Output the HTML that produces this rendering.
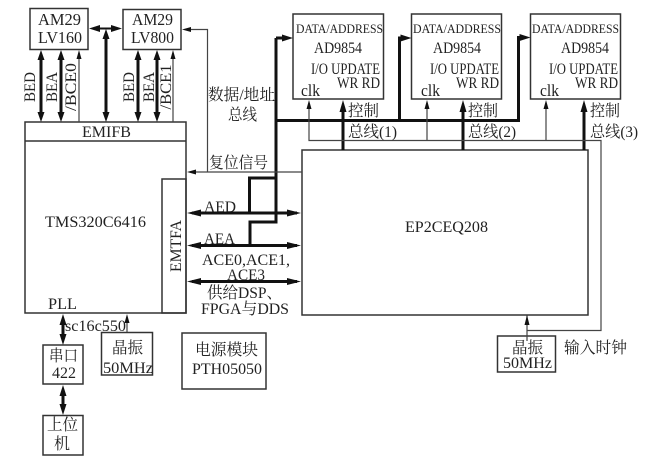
<!DOCTYPE html>
<html>
<head>
<meta charset="utf-8">
<style>
html,body{margin:0;padding:0;background:#fff;width:671px;height:465px;overflow:hidden}
svg{display:block}
text{font-family:"Liberation Serif","Noto Serif CJK SC",serif;fill:#222;font-size:16px}
.m{text-anchor:middle}
.l{font-size:17px}
.s{font-size:13px}
.r{fill:none;stroke:#333;stroke-width:1.5}
.t{fill:none;stroke:#444;stroke-width:1.2}
.b{fill:none;stroke:#111;stroke-width:3}
.a{fill:#111;stroke:none}
</style>
</head>
<body>
<svg width="671" height="465" viewBox="0 0 671 465" xmlns="http://www.w3.org/2000/svg">
<!-- boxes -->
<rect class="r" x="30" y="8.5" width="58" height="41"/>
<rect class="r" x="123" y="9.5" width="58" height="40"/>
<rect class="r" x="25" y="122" width="161" height="191"/>
<line class="r" x1="25" y1="141" x2="186" y2="141"/>
<rect class="r" x="162" y="179" width="24" height="134"/>
<rect class="r" x="302" y="150" width="286" height="165"/>
<rect class="r" x="293" y="14" width="90.500" height="85"/>
<rect class="r" x="411.500" y="14" width="90" height="85"/>
<rect class="r" x="530.500" y="14" width="90" height="85"/>
<rect class="r" x="43" y="345" width="40" height="39"/>
<rect class="r" x="43" y="415.500" width="40" height="39.500"/>
<rect class="r" x="101.500" y="332.500" width="51" height="42.500"/>
<rect class="r" x="182" y="333" width="84" height="56"/>
<rect class="r" x="497.500" y="336" width="58" height="36"/>

<!-- thick buses -->
<path class="b" d="M276 38H285M276 38V222H250V245M276 178H249.500V213"/>
<path class="b" d="M276 120.500H399.500V38H405M399.500 120.500H518.500V37.500H524"/>
<path class="b" d="M192 213H297M192 245.500H297M192 281.500H297"/>
<path class="b" d="M41 56V116M61 56V116M106 34V116M138 56V116M157 56V116"/>
<path class="b" d="M343 106V150M463 106V150M584 106V150"/>
<path class="b" d="M63 320V339M63 391V410"/>
<line x1="96" y1="28.500" x2="116" y2="28.500" stroke="#111" stroke-width="2"/>

<!-- thin lines -->
<path class="t" d="M79 55V122M173 55V122"/>
<path class="t" d="M302 172H192M207.500 172V29.500H188"/>
<path class="t" d="M309 105V140.500H601V330.500H527M427 105V140.500M546 105V140.500"/>
<path class="t" d="M527 341V315M127 332V319"/>

<!-- arrowheads -->
<g class="a">
<path d="M41 50l-3.500 10h7zM41 122l-3.500 -10h7z"/>
<path d="M61 50l-3.500 10h7zM61 122l-3.500 -10h7z"/>
<path d="M79 50l-2.500 9h5z"/>
<path d="M106 29l-3.500 10h7zM106 122l-3.500 -10h7z"/>
<path d="M138 50l-3.500 10h7zM138 122l-3.500 -10h7z"/>
<path d="M157 50l-3.500 10h7zM157 122l-3.500 -10h7z"/>
<path d="M173 50l-2.500 9h5z"/>
<path d="M89 28.500l11 -3.500v7zM122 28.500l-11 -3.500v7z"/>
<path d="M182 29.500l9 -2.500v5z"/>
<path d="M187 172l9 -2.500v5z"/>
<path d="M293 38l-11 -3.500v7zM411.500 38l-11 -3.500v7zM530.500 37.500l-11 -3.500v7z"/>
<path d="M309 100l-2.500 9h5zM427 100l-2.500 9h5zM546 100l-2.500 9h5z"/>
<path d="M343 100l-3.500 12h7zM463 100l-3.500 12h7zM584 100l-3.500 12h7z"/>
<path d="M187 213l14 -3.500v7zM301 213l-14 -3.500v7z"/>
<path d="M187 245.500l14 -3.500v7zM301 245.500l-14 -3.500v7z"/>
<path d="M187 281.500l14 -3.500v7zM301 281.500l-14 -3.500v7z"/>
<path d="M63 314l-3.500 11h7zM63 345l-3.500 -11h7z"/>
<path d="M63 385l-3.500 11h7zM63 415l-3.500 -11h7z"/>
<path d="M127 314l-2.500 9h5z"/>
<path d="M527 315l-2.500 10h5z"/>
</g>

<!-- labels -->
<g lengthAdjust="spacingAndGlyphs">
<text class="l" x="38" y="25" textLength="43" lengthAdjust="spacingAndGlyphs">AM29</text>
<text class="l" x="38" y="43" textLength="44" lengthAdjust="spacingAndGlyphs">LV160</text>
<text class="l" x="132" y="25" textLength="41" lengthAdjust="spacingAndGlyphs">AM29</text>
<text class="l" x="131" y="43" textLength="43" lengthAdjust="spacingAndGlyphs">LV800</text>
<text class="m" transform="translate(35,87) rotate(-90)" x="0" y="0" textLength="30" lengthAdjust="spacingAndGlyphs">BED</text>
<text class="m" transform="translate(57,87) rotate(-90)" x="0" y="0" textLength="30" lengthAdjust="spacingAndGlyphs">BEA</text>
<text class="m" transform="translate(76,87) rotate(-90)" x="0" y="0" textLength="48" lengthAdjust="spacingAndGlyphs">/BCE0</text>
<text class="m" transform="translate(134,87) rotate(-90)" x="0" y="0" textLength="30" lengthAdjust="spacingAndGlyphs">BED</text>
<text class="m" transform="translate(154,87) rotate(-90)" x="0" y="0" textLength="30" lengthAdjust="spacingAndGlyphs">BEA</text>
<text class="m" transform="translate(171,87) rotate(-90)" x="0" y="0" textLength="45" lengthAdjust="spacingAndGlyphs">/BCE1</text>
<text x="82" y="137" textLength="49" lengthAdjust="spacingAndGlyphs">EMIFB</text>
<text x="45" y="227" textLength="101" lengthAdjust="spacingAndGlyphs">TMS320C6416</text>
<text class="m" transform="translate(181,246) rotate(-90)" x="0" y="0" textLength="52" lengthAdjust="spacingAndGlyphs">EMTFA</text>
<text x="48" y="309" textLength="29" lengthAdjust="spacingAndGlyphs">PLL</text>
<text x="65" y="331" textLength="61" lengthAdjust="spacingAndGlyphs">sc16c550</text>
<text x="208" y="100" textLength="67" lengthAdjust="spacingAndGlyphs">数据/地址</text>
<text x="228" y="120" textLength="29" lengthAdjust="spacingAndGlyphs">总线</text>
<text x="209" y="168" textLength="59" lengthAdjust="spacingAndGlyphs">复位信号</text>
<text x="204" y="212" textLength="32" lengthAdjust="spacingAndGlyphs">AED</text>
<text x="204" y="244" textLength="31" lengthAdjust="spacingAndGlyphs">AEA</text>
<text x="202" y="265" textLength="88" lengthAdjust="spacingAndGlyphs">ACE0,ACE1,</text>
<text x="227" y="280" textLength="38" lengthAdjust="spacingAndGlyphs">ACE3</text>
<text x="207" y="298" textLength="75" lengthAdjust="spacingAndGlyphs">供给DSP、</text>
<text x="201" y="314" textLength="88" lengthAdjust="spacingAndGlyphs">FPGA与DDS</text>
<text x="405" y="232" textLength="83" lengthAdjust="spacingAndGlyphs">EP2CEQ208</text>

<text class="s" x="296" y="33" textLength="87" lengthAdjust="spacingAndGlyphs">DATA/ADDRESS</text>
<text class="s" x="413" y="33" textLength="88" lengthAdjust="spacingAndGlyphs">DATA/ADDRESS</text>
<text class="s" x="532" y="33" textLength="87" lengthAdjust="spacingAndGlyphs">DATA/ADDRESS</text>
<text x="314" y="53" textLength="48" lengthAdjust="spacingAndGlyphs">AD9854</text>
<text x="433" y="53" textLength="48" lengthAdjust="spacingAndGlyphs">AD9854</text>
<text x="561" y="53" textLength="48" lengthAdjust="spacingAndGlyphs">AD9854</text>
<text x="311" y="74" textLength="69" lengthAdjust="spacingAndGlyphs">I/O UPDATE</text>
<text x="430" y="74" textLength="69" lengthAdjust="spacingAndGlyphs">I/O UPDATE</text>
<text x="549" y="74" textLength="69" lengthAdjust="spacingAndGlyphs">I/O UPDATE</text>
<text x="337" y="88" textLength="43" lengthAdjust="spacingAndGlyphs">WR RD</text>
<text x="456" y="88" textLength="43" lengthAdjust="spacingAndGlyphs">WR RD</text>
<text x="575" y="88" textLength="43" lengthAdjust="spacingAndGlyphs">WR RD</text>
<text class="l" x="301" y="96" textLength="19" lengthAdjust="spacingAndGlyphs">clk</text>
<text class="l" x="421" y="96" textLength="19" lengthAdjust="spacingAndGlyphs">clk</text>
<text class="l" x="540" y="96" textLength="19" lengthAdjust="spacingAndGlyphs">clk</text>

<text x="348" y="116" textLength="31" lengthAdjust="spacingAndGlyphs">控制</text>
<text x="348" y="137" textLength="49" lengthAdjust="spacingAndGlyphs">总线(1)</text>
<text x="468" y="116" textLength="30" lengthAdjust="spacingAndGlyphs">控制</text>
<text x="468" y="137" textLength="48" lengthAdjust="spacingAndGlyphs">总线(2)</text>
<text x="590" y="116" textLength="30" lengthAdjust="spacingAndGlyphs">控制</text>
<text x="590" y="137" textLength="48" lengthAdjust="spacingAndGlyphs">总线(3)</text>

<text x="49" y="361" textLength="29" lengthAdjust="spacingAndGlyphs">串口</text>
<text x="52" y="378" textLength="24" lengthAdjust="spacingAndGlyphs">422</text>
<text x="47" y="430" textLength="31" lengthAdjust="spacingAndGlyphs">上位</text>
<text class="m" x="62" y="449">机</text>
<text x="112" y="353" textLength="31" lengthAdjust="spacingAndGlyphs">晶振</text>
<text x="103" y="373" textLength="50" lengthAdjust="spacingAndGlyphs">50MHz</text>
<text x="195" y="355" textLength="63" lengthAdjust="spacingAndGlyphs">电源模块</text>
<text x="192" y="374" textLength="70" lengthAdjust="spacingAndGlyphs">PTH05050</text>
<text x="512" y="353" textLength="31" lengthAdjust="spacingAndGlyphs">晶振</text>
<text x="503" y="368" textLength="49" lengthAdjust="spacingAndGlyphs">50MHz</text>
<text x="564" y="353" textLength="63" lengthAdjust="spacingAndGlyphs">输入时钟</text>
</g>
</svg>
</body>
</html>
